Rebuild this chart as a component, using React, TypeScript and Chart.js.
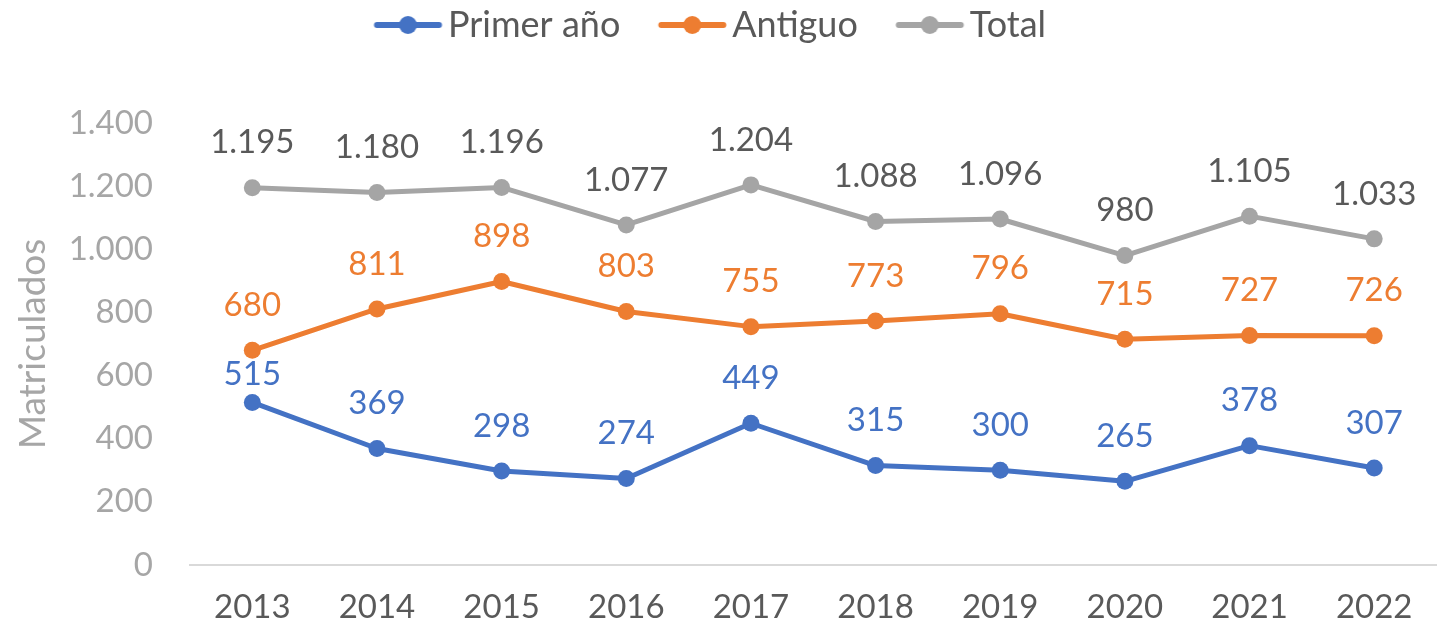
import React, { useEffect, useRef } from 'react';
import { Chart, registerables } from 'chart.js';

Chart.register(...registerables);

// ---- Data ----
const years = ['2013', '2014', '2015', '2016', '2017', '2018', '2019', '2020', '2021', '2022'];
const primerAno = [515, 369, 298, 274, 449, 315, 300, 265, 378, 307];
const antiguo = [680, 811, 898, 803, 755, 773, 796, 715, 727, 726];
const total = [1195, 1180, 1196, 1077, 1204, 1088, 1096, 980, 1105, 1033];
const seriesNames = ['Primer año', 'Antiguo', 'Total'];
const yAxisTitle = 'Matriculados';
const yMin = 0;
const yMax = 1400;
const yStep = 200;

// ---- Styles ----
const seriesColors = ['#4472C4', '#ED7D31', '#A5A5A5'];
const labelColors = ['#4472C4', '#ED7D31', '#595959'];
const FONT = 'Lato';
const LABEL_OFFSET = 45;
const specialOffsets: Record<string, number> = { '0-0': 28 };

const fmt = (n: number) => String(Math.round(n)).replace(/\B(?=(\d{3})+(?!\d))/g, '.');

// legend marker geometry
const LEG_PAD = 7;
const LINE_START = 31;
const LINE_LEN = 68;
const TEXT_GAP = 6;
const LEG_FONT = 36;
const POINT_W = LINE_START + LINE_LEN + TEXT_GAP - LEG_FONT / 2;
const LEGEND_SHIFT = 56;

function legendMarker(color: string): HTMLCanvasElement {
  const center = POINT_W / 2;
  const half = Math.ceil(Math.max(Math.abs(LINE_START - center), Math.abs(LINE_START + LINE_LEN - center)) + 2);
  const c = document.createElement('canvas');
  c.width = half * 2;
  c.height = 24;
  const ctx = c.getContext('2d')!;
  const off = half - center;
  ctx.strokeStyle = color;
  ctx.lineWidth = 6;
  ctx.lineCap = 'round';
  ctx.beginPath();
  ctx.moveTo(LINE_START + off + 3, 12);
  ctx.lineTo(LINE_START + LINE_LEN + off - 3, 12);
  ctx.stroke();
  ctx.fillStyle = color;
  ctx.beginPath();
  ctx.arc(LINE_START + LINE_LEN / 2 + off, 12, 9, 0, Math.PI * 2);
  ctx.fill();
  return c;
}

const pointLabelPlugin = {
  id: 'pointLabels',
  afterDatasetsDraw(chart: any) {
    const ctx = chart.ctx;
    chart.data.datasets.forEach((ds: any, di: number) => {
      const meta = chart.getDatasetMeta(di);
      meta.data.forEach((pt: any, i: number) => {
        const v = ds.data[i];
        const off = specialOffsets[`${di}-${i}`] ?? LABEL_OFFSET;
        ctx.save();
        ctx.font = `33px ${FONT}`;
        ctx.fillStyle = labelColors[di];
        ctx.textAlign = 'center';
        ctx.textBaseline = 'middle';
        ctx.fillText(fmt(v), pt.x, pt.y - off);
        ctx.restore();
      });
    });
  },
};

const legendHeightPlugin = {
  id: 'legendHeight',
  afterInit(chart: any) {
    const lg = chart.legend;
    if (!lg) return;
    const orig = lg.fit;
    lg.fit = function () {
      orig.call(this);
      this.height = 123;
    };
  },
  afterLayout(chart: any) {
    if (chart.legend) chart.legend.right -= LEGEND_SHIFT;
  },
};

export default function App() {
  const ref = useRef<HTMLCanvasElement | null>(null);

  useEffect(() => {
    document.body.style.margin = '0';
    const canvas = ref.current;
    if (!canvas) return;
    Chart.defaults.font.family = FONT;
    const markers = seriesColors.map(legendMarker);
    const series = [primerAno, antiguo, total];
    const chart = new Chart(canvas, {
      type: 'line',
      data: {
        labels: years,
        datasets: series.map((d, i) => ({
          label: seriesNames[i],
          data: d,
          borderColor: seriesColors[i],
          backgroundColor: seriesColors[i],
          borderWidth: 5,
          borderCapStyle: 'round',
          borderJoinStyle: 'round',
          pointRadius: 8.5,
          pointBorderWidth: 0,
          pointBackgroundColor: seriesColors[i],
          pointHoverRadius: 8.5,
          tension: 0,
          fill: false,
        })),
      },
      options: {
        responsive: false,
        animation: false,
        events: [],
        layout: { padding: 0 },
        plugins: {
          tooltip: { enabled: false },
          legend: {
            display: true,
            position: 'top',
            labels: {
              usePointStyle: true,
              pointStyleWidth: POINT_W,
              padding: LEG_PAD,
              color: '#595959',
              font: { size: LEG_FONT, family: FONT },
              generateLabels: (c: any) => {
                const items = Chart.defaults.plugins.legend.labels.generateLabels(c);
                return items.map((it: any, i: number) => ({ ...it, pointStyle: markers[i] }));
              },
            },
          },
        },
        scales: {
          x: {
            type: 'category',
            offset: true,
            grid: { display: false, drawTicks: false },
            border: { display: true, color: '#D9D9D9', width: 2 },
            ticks: { color: '#595959', font: { size: 33, family: FONT }, padding: 23, maxRotation: 0, autoSkip: false },
            afterFit: (s: any) => { s.height = 68; },
          },
          y: {
            min: yMin,
            max: yMax,
            grid: { display: false, drawTicks: false },
            border: { display: false },
            ticks: {
              stepSize: yStep,
              color: '#A6A6A6',
              font: { size: 33, family: FONT },
              padding: 37,
              callback: (v: any) => fmt(Number(v)),
            },
            title: {
              display: true,
              text: yAxisTitle,
              color: '#A6A6A6',
              font: { size: 37, family: FONT, weight: 'normal' },
              padding: { top: 11, bottom: 0 },
            },
            afterFit: (s: any) => { s.width = 190; },
          },
        },
      } as any,
      plugins: [pointLabelPlugin, legendHeightPlugin],
    });
    return () => chart.destroy();
  }, []);

  return (
    <div style={{ position: 'absolute', left: 0, top: 0, width: 1445, height: 633 }}>
      <canvas ref={ref} width={1445} height={633} style={{ width: 1445, height: 633, display: 'block' }} />
    </div>
  );
}
